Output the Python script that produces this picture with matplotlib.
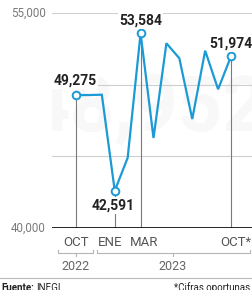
import matplotlib
matplotlib.use("Agg")
import matplotlib.pyplot as plt
from matplotlib.lines import Line2D

plt.rcParams['font.family'] = ['Roboto', 'DejaVu Sans']

# data
meses = ['OCT', 'NOV', 'DIC', 'ENE', 'FEB', 'MAR', 'ABR', 'MAY', 'JUN',
         'JUL', 'AGO', 'SEP', 'OCT*']
valores = [49275, 49275, 49300, 42591, 44900, 53584, 46280, 52890, 51840,
           47600, 52370, 49680, 51974]
destacados = [0, 3, 5, 12]
etiquetas = ['49,275', '42,591', '53,584', '51,974']
ticks_y = [40000, 45000, 50000, 55000]
ticks_y_txt = {40000: '40,000', 55000: '55,000'}
anios = ['2022', '2023']

W, H = 252, 290
azul = '#1b9ad6'

fig = plt.figure(figsize=(W / 100, H / 100), dpi=100)


def fx(px):
    return px / W


def fy(py):
    return 1 - py / H


# axes placed so that 55,000 -> y=13px, 40,000 -> y=228px, OCT -> x=76, OCT* -> x=231
ax = fig.add_axes([fx(52), fy(228), fx(200), (228 - 13) / H])
paso = (231 - 76) / 12
ax.set_xlim(-(76 - 52) / paso, 12 + (252 - 231) / paso)
ax.set_ylim(40000, 55000)
ax.axis('off')

# faint watermark behind everything
ax.text(5.5, 48200, '48,952', fontsize=56, fontweight='bold',
        color='#f8f8f8', ha='center', va='center', zorder=0, clip_on=True)

for v in ticks_y[1:]:
    ax.axhline(v, color='#cfcfcf', lw=0.8, zorder=1)
ax.axhline(40000, color='#111111', lw=2, zorder=4)

x = list(range(len(meses)))
for i in destacados:
    ax.plot([i, i], [40000, valores[i]], color='#7a7a7a', lw=0.8, zorder=2)

ax.plot(x, valores, color=azul, lw=1.6, zorder=3, solid_joinstyle='miter')
ax.plot([x[i] for i in destacados], [valores[i] for i in destacados], 'o',
        ms=5.5, mfc='white', mec=azul, mew=1.4, zorder=5)

# data labels
off = {0: (-0.1, 1000), 3: (-0.15, -1000), 5: (0, 900), 12: (0, 900)}
for i, t in zip(destacados, etiquetas):
    dx, dy = off[i]
    ax.text(i + dx, valores[i] + dy, t, fontsize=10, fontweight='bold',
            color='#222222', ha='center', va='center', zorder=6,
            bbox=dict(boxstyle='square,pad=0.1', fc='white', ec='none'))

# y labels
for v, t in ticks_y_txt.items():
    ax.text(-(76 - 46) / paso, v, t, fontsize=8.3, color='#7a7a7a',
            ha='right', va='center')

# month labels
pos_mes = {0: 76, 3: 110, 5: 144}
for i, px in pos_mes.items():
    fig.text(fx(px), fy(243), meses[i], fontsize=9.5, color='#555555',
             ha='center', va='center')
fig.text(fx(251), fy(243), meses[12], fontsize=9.5, color='#555555',
         ha='right', va='center')


# brackets
def llave(x0, x1, xc):
    c = '#b5b5b5'
    fig.add_artist(Line2D([fx(x0), fx(x0), fx(x1), fx(x1)],
                          [fy(250), fy(253), fy(253), fy(250)], color=c, lw=0.8))
    fig.add_artist(Line2D([fx(xc), fx(xc)], [fy(253), fy(256)], color=c, lw=0.8))


llave(58, 93, 76)
llave(97, 250, 173)
fig.text(fx(76), fy(266), anios[0], fontsize=9, color='#666666',
         ha='center', va='center')
fig.text(fx(173), fy(266), anios[1], fontsize=9, color='#666666',
         ha='center', va='center')

# footer
fig.add_artist(Line2D([0, 1], [fy(278), fy(278)], color='#bbbbbb', lw=0.8))
fig.text(fx(1), fy(288), 'Fuente:', fontsize=7, fontweight='bold',
         color='#222222', ha='left', va='center')
fig.text(fx(36), fy(288), 'INEGI', fontsize=7, color='#222222',
         ha='left', va='center')
fig.text(fx(250), fy(288), '*Cifras oportunas', fontsize=7, color='#222222',
         ha='right', va='center')

fig.savefig('out.png', dpi=100)
